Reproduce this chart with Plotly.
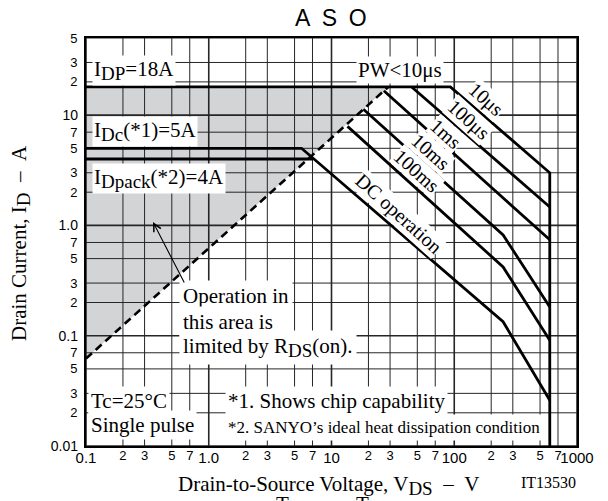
import math
import plotly.graph_objects as go

# ---------------- data ----------------
x_major = [0.1, 1, 10, 100, 1000]
x_major_text = ["0.1", "1.0", "10", "100", "1000"]
x_minor = [0.2, 0.3, 0.5, 0.7, 2, 3, 5, 7, 20, 30, 50, 70, 200, 300, 500, 700]
x_minor_text = ["2", "3", "5", "7", "2", "3", "5", "7", "2", "3", "5", "7", "2", "3", "5", "7"]
y_major = [0.01, 0.1, 1, 10]
y_major_text = ["0.01", "0.1", "1.0", "10"]
y_minor = [0.02, 0.03, 0.05, 0.07, 0.2, 0.3, 0.5, 0.7, 2, 3, 5, 7, 20, 30, 50]
y_minor_text = ["2", "3", "5", "7", "2", "3", "5", "7", "2", "3", "5", "7", "2", "3", "5"]

X_RANGE = [0.1, 1000]
Y_RANGE = [0.01, 50]

# SOA boundaries (VDS in V, ID in A)
pw10us_v = [0.1, 93, 600, 600]
pw10us_i = [18, 18, 3.0, 0.01]
pw100us_v = [45, 600]
pw100us_i = [18, 1.47]
pw1ms_v = [26.7, 600]
pw1ms_i = [16.6, 0.74]
pw10ms_v = [18.2, 250, 600]
pw10ms_i = [11.3, 0.82, 0.182]
pw100ms_v = [13.5, 250, 600]
pw100ms_i = [7.9, 0.42, 0.091]
dc_v = [0.1, 5.7, 250, 600]
dc_i = [5, 5, 0.134, 0.026]
idpack_v = [0.1, 7.1]
idpack_i = [4, 4]
rds_v = [0.1, 29]
rds_i = [0.062, 18]
area_v = [0.1, 0.1, 29]
area_i = [0.062, 18, 18]

# ---------------- layout geometry ----------------
W, H = 608, 501
ML, MR, MT, MB = 86, 31, 38, 55
PW = W - ML - MR
PH = H - MT - MB

SERIF = "Liberation Serif"
SANS = "Liberation Sans"


def px(x):
    return (x - ML) / PW


def py(y):
    return (H - MB - y) / PH


fig = go.Figure()

# shaded R_DS(on) limited area
fig.add_trace(go.Scatter(x=area_v, y=area_i, fill="toself", fillcolor="#d3d4d6",
                         line=dict(width=0), mode="lines", hoverinfo="skip", showlegend=False))


# grid lines (drawn as traces so they sit above the shaded area)
def vlines(vals):
    xs, ys = [], []
    for v in vals:
        xs += [v, v, None]
        ys += [Y_RANGE[0], Y_RANGE[1], None]
    return xs, ys


def hlines(vals):
    xs, ys = [], []
    for v in vals:
        xs += [X_RANGE[0], X_RANGE[1], None]
        ys += [v, v, None]
    return xs, ys


for vals, fn, wdt in [(x_minor, vlines, 1.0), (y_minor, hlines, 1.0),
                      (x_major, vlines, 1.6), (y_major, hlines, 1.6)]:
    gx, gy = fn(vals)
    fig.add_trace(go.Scatter(x=gx, y=gy, mode="lines", line=dict(color="#262626", width=wdt),
                             hoverinfo="skip", showlegend=False))

# R_DS(on) dashed limit
fig.add_trace(go.Scatter(x=rds_v, y=rds_i, mode="lines",
                         line=dict(color="black", width=2.6, dash="8px,5px"),
                         hoverinfo="skip", showlegend=False))

for xs, ys in [(pw10us_v, pw10us_i), (pw100us_v, pw100us_i), (pw1ms_v, pw1ms_i),
               (pw10ms_v, pw10ms_i), (pw100ms_v, pw100ms_i), (dc_v, dc_i),
               (idpack_v, idpack_i)]:
    fig.add_trace(go.Scatter(x=xs, y=ys, mode="lines", line=dict(color="black", width=2.8),
                             hoverinfo="skip", showlegend=False))

# dummy trace for overlay axes (major tick labels)
fig.add_trace(go.Scatter(x=[1], y=[1], xaxis="x2", yaxis="y2", mode="markers",
                         marker=dict(opacity=0), hoverinfo="skip", showlegend=False))

lx = [math.log10(v) for v in X_RANGE]
ly = [math.log10(v) for v in Y_RANGE]

fig.update_layout(
    width=W, height=H,
    margin=dict(l=ML, r=MR, t=MT, b=MB, autoexpand=False),
    paper_bgcolor="white", plot_bgcolor="white",
    showlegend=False,
    xaxis=dict(type="log", range=lx, tickmode="array", tickvals=x_minor, ticktext=x_minor_text,
               tickfont=dict(family=SANS, size=13, color="black"), showgrid=False, zeroline=False,
               showline=True, mirror=True, linecolor="black", linewidth=1.6, ticks="",
               ticklabelstandoff=-3, automargin=False),
    xaxis2=dict(type="log", range=lx, overlaying="x", anchor="y2", side="bottom",
                tickmode="array", tickvals=x_major, ticktext=x_major_text,
                tickfont=dict(family=SANS, size=15, color="black"), showgrid=False,
                zeroline=False, showline=False, ticks="", ticklabelstandoff=1, automargin=False),
    yaxis=dict(type="log", range=ly, tickmode="array", tickvals=y_minor, ticktext=y_minor_text,
               tickfont=dict(family=SANS, size=13, color="black"), showgrid=False, zeroline=False,
               showline=True, mirror=True, linecolor="black", linewidth=1.6, ticks="",
               ticklabelstandoff=4, automargin=False),
    yaxis2=dict(type="log", range=ly, overlaying="y", anchor="x2", side="left",
                tickmode="array", tickvals=y_major, ticktext=y_major_text,
                tickfont=dict(family=SANS, size=14, color="black"), showgrid=False,
                zeroline=False, showline=False, ticks="", ticklabelstandoff=7, automargin=False),
)

anns = []


def label(text, x, y, size=21, xanchor="center", angle=0, bg="white", family=SERIF, pad=1):
    anns.append(dict(text=text, x=px(x), y=py(y), xref="paper", yref="paper",
                     xanchor=xanchor, yanchor="middle", showarrow=False, textangle=angle,
                     font=dict(family=family, size=size, color="black"),
                     bgcolor=bg, borderpad=pad))


SUB = '<sub><span style="font-size:19px">%s</span></sub>'

label("I" + SUB % "DP" + "=18A", 92, 70, xanchor="left")
label("I" + SUB % "Dc" + "(*1)=5A", 92, 131, xanchor="left")
label("I" + SUB % "Dpack" + "(*2)=4A", 92, 178, xanchor="left")
label("PW&lt;10μs", 399.5, 70)

for txt, cx, cy in [("10μs", 486, 99), ("100μs", 468, 120), ("1ms", 446, 134),
                    ("10ms", 431, 152), ("100ms", 417, 171), ("DC operation", 398.5, 213)]:
    label(txt, cx, cy, size=20, angle=42, pad=0)

label("Operation in", 179, 296, xanchor="left", pad=3)
label("this area is", 179, 322, xanchor="left", pad=3)
label("limited by R" + SUB % "DS" + "(on).", 179, 347, xanchor="left", pad=3)

label("Tc=25°C", 88, 401, xanchor="left", pad=2)
label("Single pulse", 88, 425, xanchor="left", pad=2)
label("*1. Shows chip capability", 225, 401, xanchor="left", pad=2)
label("*2. SANYO’s ideal heat dissipation condition", 224, 427, size=17, xanchor="left", pad=3)

label("Drain-to-Source Voltage, V" + SUB % "DS" + "\u2002–\u2002V", 328, 485, bg="rgba(0,0,0,0)")
label("IT13530", 548.5, 482.5, size=16, bg="rgba(0,0,0,0)")
label("A\u2002S\u2002O", 330.5, 18, size=23, family=SANS, bg="rgba(0,0,0,0)")
label("Drain Current, I" + SUB % "D" + "\u2002–\u2002A", 20, 243, angle=-90, bg="rgba(0,0,0,0)")
# tops of the next (cut-off) text line at the bottom edge of the sheet
label("T", 282.5, 504, bg="rgba(0,0,0,0)")
label("T", 362.5, 504, bg="rgba(0,0,0,0)")

# arrow pointing into the shaded area
anns.append(dict(text="", x=px(153), y=py(222), xref="paper", yref="paper",
                 showarrow=True, ax=32, ay=62, arrowhead=5, arrowsize=1.4,
                 arrowwidth=1.1, arrowcolor="black", standoff=0, startstandoff=0))

fig.update_layout(annotations=anns)
fig.write_html("out.html", config={"displayModeBar": False},
               post_script="document.body.style.margin='0px';document.body.style.overflow='hidden';")
